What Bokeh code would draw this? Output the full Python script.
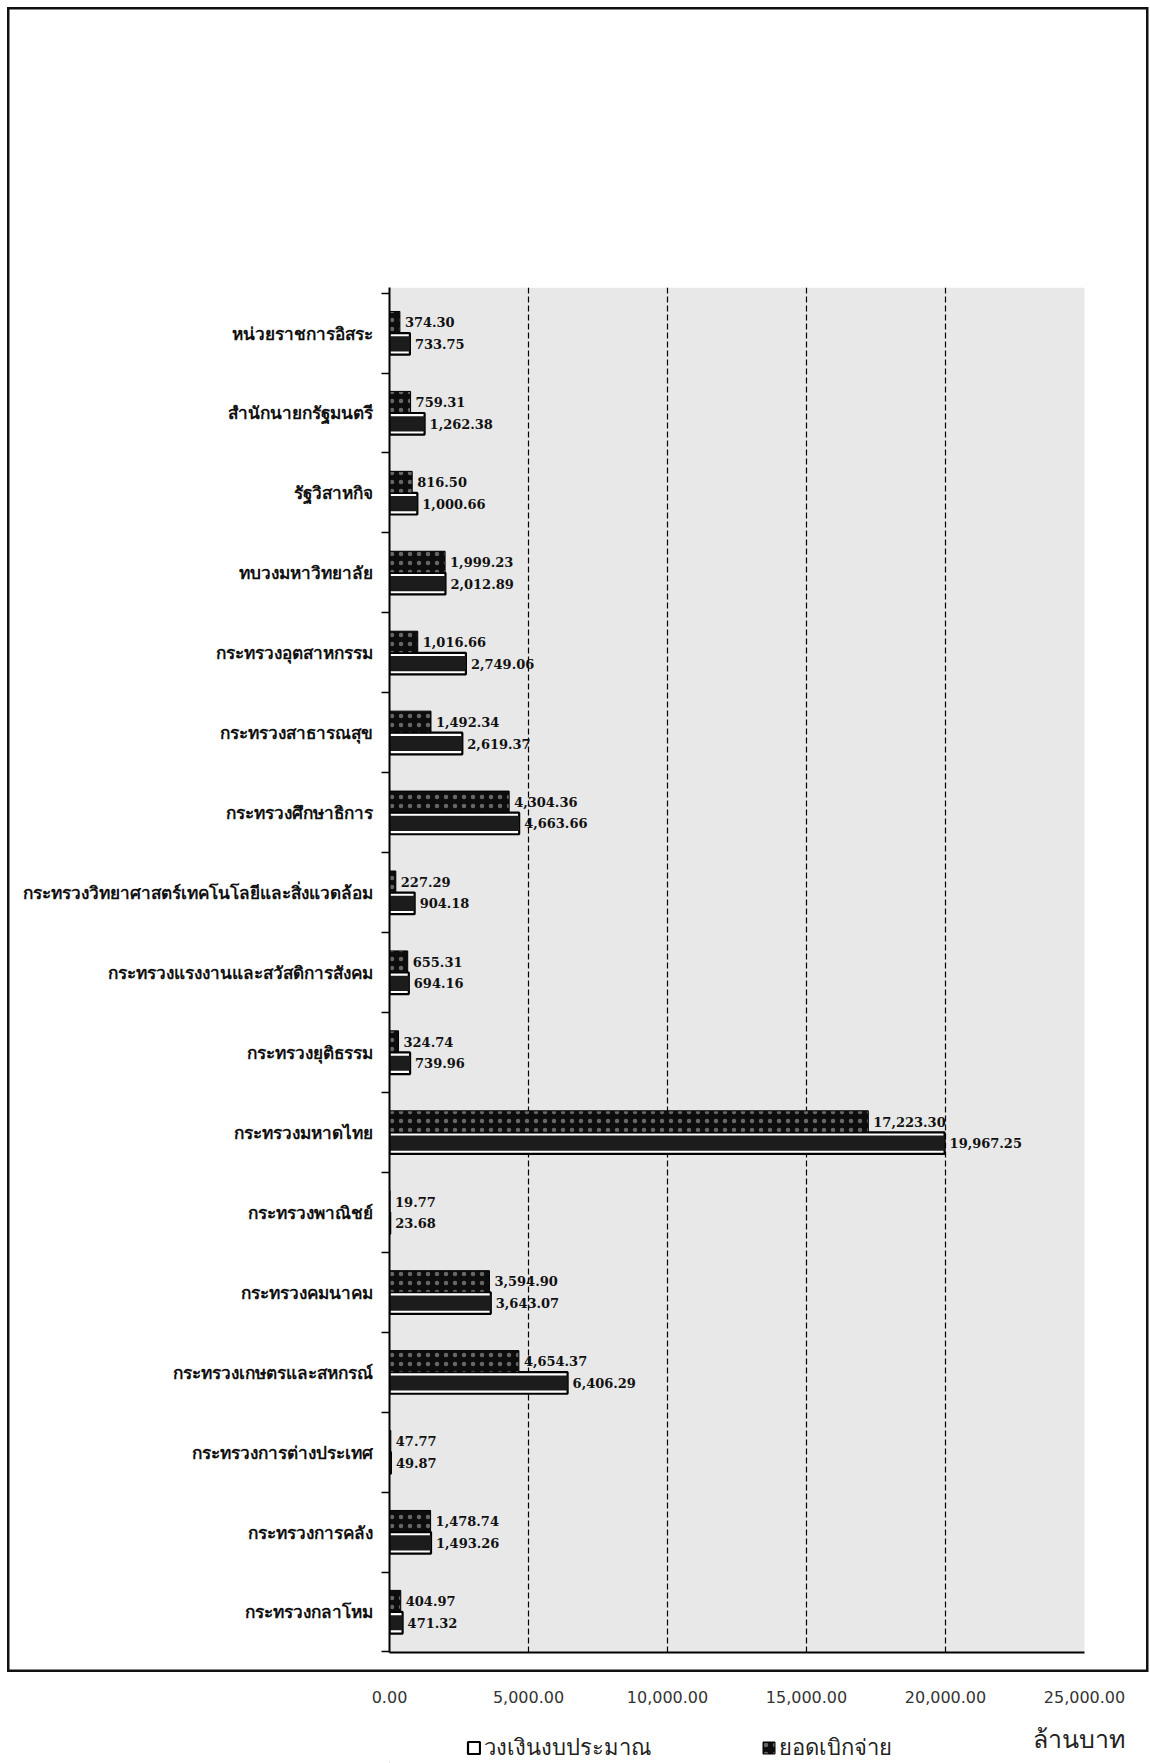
from bokeh.plotting import figure
from bokeh.layouts import column
from bokeh.models import (Range1d, FixedTicker, NumeralTickFormatter, ColumnDataSource,
                          Legend, LegendItem, BoxAnnotation)
from bokeh.embed import file_html
from bokeh.resources import INLINE
from bokeh.core.properties import value

# ---- data (top to bottom as in the chart) ----
categories = [
    "หน่วยราชการอิสระ",
    "สำนักนายกรัฐมนตรี",
    "รัฐวิสาหกิจ",
    "ทบวงมหาวิทยาลัย",
    "กระทรวงอุตสาหกรรม",
    "กระทรวงสาธารณสุข",
    "กระทรวงศึกษาธิการ",
    "กระทรวงวิทยาศาสตร์เทคโนโลยีและสิ่งแวดล้อม",
    "กระทรวงแรงงานและสวัสดิการสังคม",
    "กระทรวงยุติธรรม",
    "กระทรวงมหาดไทย",
    "กระทรวงพาณิชย์",
    "กระทรวงคมนาคม",
    "กระทรวงเกษตรและสหกรณ์",
    "กระทรวงการต่างประเทศ",
    "กระทรวงการคลัง",
    "กระทรวงกลาโหม",
]
disbursed = [374.30, 759.31, 816.50, 1999.23, 1016.66, 1492.34, 4304.36, 227.29,
             655.31, 324.74, 17223.30, 19.77, 3594.90, 4654.37, 47.77, 1478.74, 404.97]
budget = [733.75, 1262.38, 1000.66, 2012.89, 2749.06, 2619.37, 4663.66, 904.18,
          694.16, 739.96, 19967.25, 23.68, 3643.07, 6406.29, 49.87, 1493.26, 471.32]
x_ticks = [0, 5000, 10000, 15000, 20000, 25000]
grid_ticks = [5000, 10000, 15000, 20000]
legend_labels = ["วงเงินงบประมาณ", "ยอดเบิกจ่าย"]
unit_label = "ล้านบาท"

n = len(categories)
pos = [n - 1 - i for i in range(n)]
src = ColumnDataSource(dict(
    y_d=[q + 0.135 for q in pos],
    y_b=[q - 0.135 for q in pos],
    d=disbursed, b=budget,
    d_txt=[f"{v:,.2f}" for v in disbursed],
    b_txt=[f"{v:,.2f}" for v in budget],
))

# ---- layout (pixels) ----
W = 1150
TOP_H, BOT_H = 1673, 90
LEFT = 389                 # x = 0
AXIS_END_PX = 1084         # x = 25 000
X_MAX = 25000
X_END = X_MAX * (W - LEFT) / (AXIS_END_PX - LEFT)   # frame runs to the right edge

# outer frame of the scanned page: stacked inset shadows
frame_box = ("inset 7px 7px 0 0 #ffffff, inset -1.5px -1px 0 0 #ffffff, "
             "inset 9.5px 9.5px 0 0 #111111, inset -4px -3.5px 0 0 #111111")

p = figure(width=W, height=TOP_H, output_backend="svg", toolbar_location=None,
           x_range=Range1d(0, X_END), y_range=Range1d(-0.507, n - 1 + 0.57),
           min_border_left=LEFT, min_border_right=0,
           min_border_top=287, min_border_bottom=TOP_H - 1652,
           background_fill_color=None, border_fill_color=None,
           outline_line_color=None, styles={"box-shadow": frame_box})

# grey plot area up to 25 000
p.add_layout(BoxAnnotation(right=X_MAX, fill_color="#e8e8e8", fill_alpha=1,
                           line_color=None, level="image"))

p.ygrid.grid_line_color = None
p.xgrid.ticker = FixedTicker(ticks=grid_ticks)
p.xgrid.grid_line_color = "black"
p.xgrid.grid_line_dash = "6 3"
p.xgrid.grid_line_width = 1.2

p.xaxis.ticker = FixedTicker(ticks=x_ticks)
p.xaxis.bounds = (0, X_MAX)
p.xaxis.major_tick_line_color = None
p.xaxis.minor_tick_line_color = None
p.xaxis.major_tick_out = 0
p.xaxis.major_tick_in = 0
p.xaxis.major_label_standoff = 0
p.xaxis.major_label_text_alpha = 0
p.xaxis.major_label_text_font_size = "8px"
p.xaxis.axis_line_color = "black"
p.xaxis.axis_line_width = 2

p.yaxis.ticker = FixedTicker(ticks=pos, minor_ticks=[k + 0.5 for k in range(-1, n)])
p.yaxis.major_label_overrides = {q: c for q, c in zip(pos, categories)}
p.yaxis.major_tick_line_color = None
p.yaxis.major_tick_out = 0
p.yaxis.major_tick_in = 0
p.yaxis.minor_tick_in = 0
p.yaxis.minor_tick_out = 8
p.yaxis.minor_tick_line_color = "black"
p.yaxis.minor_tick_line_width = 1.5
p.yaxis.axis_line_color = "black"
p.yaxis.axis_line_width = 2
p.yaxis.major_label_standoff = 9
p.yaxis.major_label_text_font = "Noto Sans"
p.yaxis.major_label_text_font_style = "bold"
p.yaxis.major_label_text_font_size = "17.2px"
p.yaxis.major_label_text_color = "#111111"

BUDGET_STYLE = dict(fill_color="white", line_color="black", line_width=2.2)
DISB_STYLE = dict(fill_color="#0d0d0d", line_color="black", line_width=1,
                  hatch_pattern=".", hatch_color="#666666", hatch_scale=9, hatch_weight=1.3)

# budget bars: black frame with dark core
p.hbar(y="y_b", left=0, right="b", height=0.27, source=src, **BUDGET_STYLE)
p.hbar(y="y_b", left=0, right="b", height=0.19, source=src,
       fill_color="#1c1c1c", line_color=None)
# disbursed bars: black with dots
p.hbar(y="y_d", left=0, right="d", height=0.27, source=src, **DISB_STYLE)

for col, ycol in (("d", "y_d"), ("b", "y_b")):
    p.text(x=col, y=ycol, text=col + "_txt", source=src, x_offset=5,
           text_baseline="middle", text_align="left",
           text_font=value("DejaVu Serif"), text_font_style="bold",
           text_font_size="13px", text_color="#111111")

# ---------------- strip below the frame ----------------
q = figure(width=W, height=BOT_H, output_backend="svg", toolbar_location=None,
           x_range=p.x_range, y_range=Range1d(0, 1), x_axis_location="above",
           min_border_left=LEFT, min_border_right=0,
           min_border_top=33, min_border_bottom=0,
           background_fill_color=None, border_fill_color=None,
           outline_line_color=None)
q.grid.visible = False
q.yaxis.visible = False
q.xaxis.ticker = FixedTicker(ticks=x_ticks)
q.xaxis.formatter = NumeralTickFormatter(format="0,0.00")
q.xaxis.axis_line_color = None
q.xaxis.major_tick_line_color = None
q.xaxis.minor_tick_line_color = None
q.xaxis.major_tick_out = 0
q.xaxis.major_tick_in = 0
q.xaxis.major_label_standoff = 4
q.xaxis.major_label_text_font = "DejaVu Sans"
q.xaxis.major_label_text_font_size = "16px"
q.xaxis.major_label_text_color = "#333333"

unit_x, unit_y = 24790, 0.44
q.text(x=[unit_x], y=[unit_y], text=[unit_label], text_align="center",
       text_baseline="middle", text_font=value("Noto Sans"),
       text_font_size="25px", text_color="#222222")

# legend swatches (proxies kept below the visible range)
r_lb = q.hbar(y=[-1], left=[0], right=[1], height=0.2, **BUDGET_STYLE)
r_ld = q.hbar(y=[-1], left=[0], right=[1], height=0.2, **DISB_STYLE)
legend = Legend(items=[LegendItem(label=legend_labels[0], renderers=[r_lb]),
                       LegendItem(label=legend_labels[1], renderers=[r_ld])],
                orientation="horizontal", location=(77, -2),
                spacing=110, glyph_width=15, glyph_height=15, label_standoff=3,
                label_text_font="Noto Sans", label_text_font_size="22px",
                label_text_color="#222222",
                border_line_color=None, background_fill_alpha=0, padding=0, margin=0)
q.add_layout(legend)

open("out.html", "w").write(file_html(column(p, q, spacing=0), INLINE))
